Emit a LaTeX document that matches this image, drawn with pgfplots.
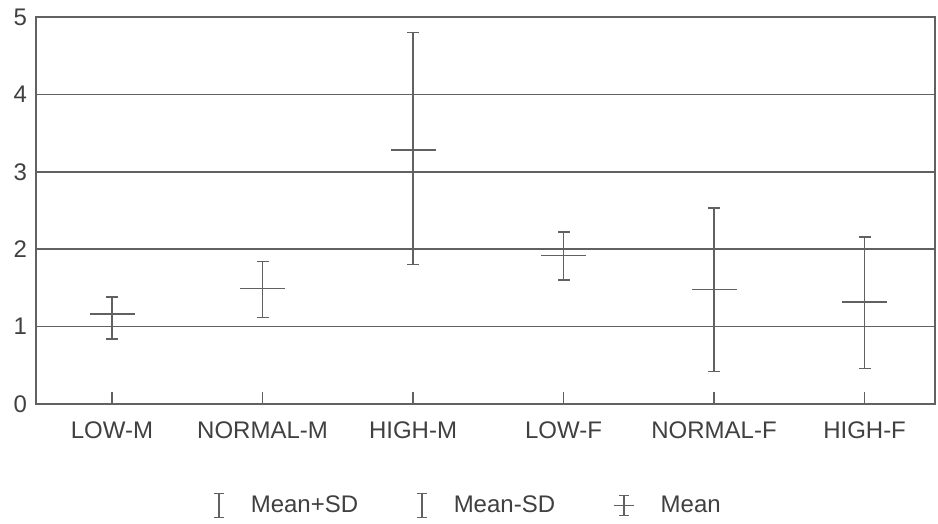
\documentclass[border=0pt]{standalone}
\usepackage{pgfplots}
\usepackage{pgfplotstable}
\pgfplotsset{compat=1.18}
\usepackage{fontspec}
\setmainfont{Liberation Sans}
\definecolor{ln}{gray}{0.38}
\definecolor{tx}{gray}{0.25}
\begin{document}
\begin{tikzpicture}
\pgfplotstableread{
x mean up lo
0 1.16 1.38 0.84
1 1.49 1.84 1.12
2 3.28 4.80 1.80
3 1.92 2.22 1.60
4 1.48 2.53 0.42
5 1.32 2.16 0.46
}\data
\begin{axis}[
  width=449.5pt, height=193.5pt, scale only axis,
  xmin=-0.505, xmax=5.468, ymin=0, ymax=5,
  ytick={0,...,5},
  xtick={0,...,5},
  xticklabels={LOW-M,NORMAL-M,HIGH-M,LOW-F,NORMAL-F,HIGH-F},
  ymajorgrids,
  grid style={ln, line width=0.8pt},
  axis line style={ln, line width=1pt},
  tick align=inside, xtick pos=bottom,
  ytick style={draw=none},
  xtick style={ln, line width=0.8pt},
  major tick length=6pt,
  tick label style={font=\fontsize{12}{14}\selectfont, text=tx},
  /pgf/number format/assume math mode=true,
  xticklabel style={yshift=-5.5pt},
  yticklabel style={xshift=-1pt},
  legend style={at={(0.4816,-0.262)}, anchor=center, draw=none, fill=none,
    legend columns=3, font=\fontsize{12}{14}\selectfont, text=tx,
    /tikz/every odd column/.append style={column sep=11pt},
    /tikz/every even column/.append style={column sep=27pt}},
]
\coordinate (sw) at (rel axis cs:0,0);
\coordinate (ne) at (rel axis cs:1,1);
\addplot[only marks, mark=-, mark size=3pt, color=ln, mark options={solid, line width=0.8pt},
  legend image code/.code={\draw[ln, line width=0.8pt] (0pt,-6pt)--(0pt,6pt) (-2.5pt,-6pt)--(2.5pt,-6pt) (-2.5pt,6pt)--(2.5pt,6pt);}]
  table[x=x, y=up]{\data};
\addlegendentry{Mean+SD}
\addplot[only marks, mark=-, mark size=3pt, color=ln, mark options={solid, line width=0.8pt},
  legend image code/.code={\draw[ln, line width=0.8pt] (0pt,-6pt)--(0pt,6pt) (-2.5pt,-6pt)--(2.5pt,-6pt) (-2.5pt,6pt)--(2.5pt,6pt);}]
  table[x=x, y=lo]{\data};
\addlegendentry{Mean-SD}
\addplot[only marks, mark=-, mark size=11.25pt, color=ln, mark options={solid, line width=0.8pt},
  error bars/.cd, y dir=both, y explicit, error mark=none,
  error bar style={ln, line width=0.8pt},
  /pgfplots/legend image code/.code={\draw[ln, line width=0.8pt] (0pt,-5pt)--(0pt,5pt) (-2.5pt,-5pt)--(2.5pt,-5pt) (-2.5pt,5pt)--(2.5pt,5pt) (-5pt,0pt)--(5pt,0pt);}]
  table[x=x, y=mean, y error plus expr=\thisrow{up}-\thisrow{mean}, y error minus expr=\thisrow{mean}-\thisrow{lo}]{\data};
\addlegendentry{Mean}
\end{axis}
\pgfresetboundingbox
\path[use as bounding box] ([shift={(-18pt,-59.5pt)}]sw) rectangle ([shift={(1.5pt,8.5pt)}]ne);
\end{tikzpicture}
\end{document}
